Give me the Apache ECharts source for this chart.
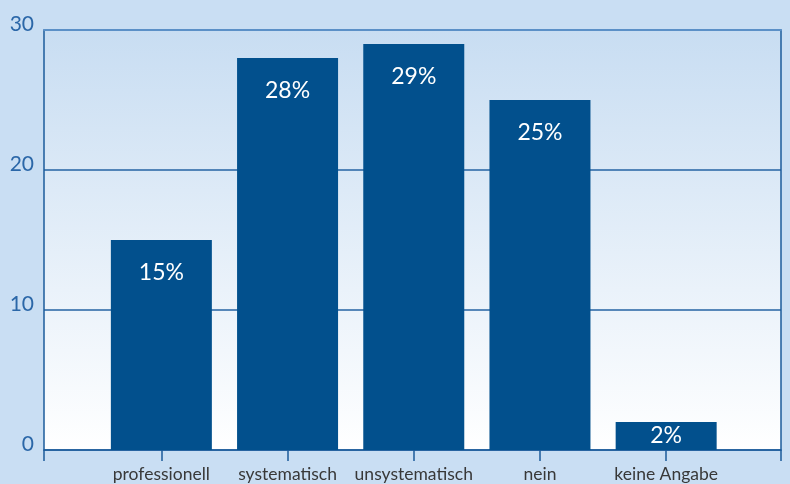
<!DOCTYPE html>
<html>
<head>
<meta charset="utf-8">
<script src="https://cdn.jsdelivr.net/npm/echarts@6/dist/echarts.min.js"></script>
<style>
  html, body { margin: 0; padding: 0; background: #c9def3; }
  #chart { width: 790px; height: 484px; }
</style>
</head>
<body>
<div id="chart"></div>
<script>
// Kategorien und Werte (Prozent)
const categories = ['professionell', 'systematisch', 'unsystematisch', 'nein', 'keine Angabe']
const values = [15, 28, 29, 25, 2]
const yTicks = [0, 10, 20, 30]

const xMin = -0.93
const xMax = 4.91
const darkBlue = '#1b5b9b'

const myChart = echarts.init(document.getElementById('chart'))

const option = {
  backgroundColor: '#c9def3',
  animation: false,
  grid: {
    left: 44,
    right: 9,
    top: 30,
    bottom: 34,
    show: true,
    borderWidth: 0,
    backgroundColor: new echarts.graphic.LinearGradient(0, 0, 0, 1, [
      { offset: 0, color: '#c8ddf2' },
      { offset: 1, color: '#ffffff' }
    ])
  },
  xAxis: [
    {
      type: 'value',
      min: xMin,
      max: xMax,
      axisLine: { onZero: false, lineStyle: { color: darkBlue, width: 1.5 } },
      axisTick: {
        show: true,
        length: 11,
        customValues: [xMin, 0, 1, 2, 3, 4, xMax],
        lineStyle: { color: darkBlue, width: 1.5 }
      },
      axisLabel: {
        customValues: [0, 1, 2, 3, 4],
        formatter: v => categories[Math.round(v)] || '',
        color: '#383838',
        fontFamily: 'Lato',
        fontSize: 17.5,
        margin: 15
      },
      splitLine: { show: false }
    },
    {
      type: 'value',
      position: 'top',
      min: xMin,
      max: xMax,
      axisLine: { show: true, onZero: false, lineStyle: { color: '#5b90c7', width: 2 } },
      axisTick: { show: false },
      axisLabel: { show: false },
      splitLine: { show: false }
    }
  ],
  yAxis: [
    {
      type: 'value',
      min: 0,
      max: 30,
      interval: 10,
      axisLine: { show: true, onZero: false, lineStyle: { color: darkBlue, width: 1.5 } },
      axisTick: { show: false },
      axisLabel: {
        color: '#2b67a8',
        fontFamily: 'Lato',
        fontSize: 21,
        margin: 10,
        verticalAlign: 'bottom',
        lineHeight: 12,
        formatter: v => (yTicks.includes(v) ? String(v) : '')
      },
      splitLine: { lineStyle: { color: '#2563a3', width: 1.5 } }
    },
    {
      type: 'value',
      position: 'right',
      min: 0,
      max: 30,
      interval: 10,
      axisLine: { show: true, onZero: false, lineStyle: { color: darkBlue, width: 1.5 } },
      axisTick: { show: false },
      axisLabel: { show: false },
      splitLine: { show: false }
    }
  ],
  series: [
    {
      type: 'bar',
      barWidth: 101,
      data: values.map((v, i) => ({
        value: [i, v],
        // kleine Balken: Beschriftung mittig
        label: v < 5 ? { position: 'inside', distance: 0 } : undefined
      })),
      itemStyle: { color: '#02508d' },
      label: {
        show: true,
        position: 'insideTop',
        distance: 21,
        color: '#ffffff',
        fontFamily: 'Lato',
        fontSize: 23,
        formatter: p => p.value[1] + '%'
      }
    }
  ]
}

myChart.setOption(option)
</script>
</body>
</html>
